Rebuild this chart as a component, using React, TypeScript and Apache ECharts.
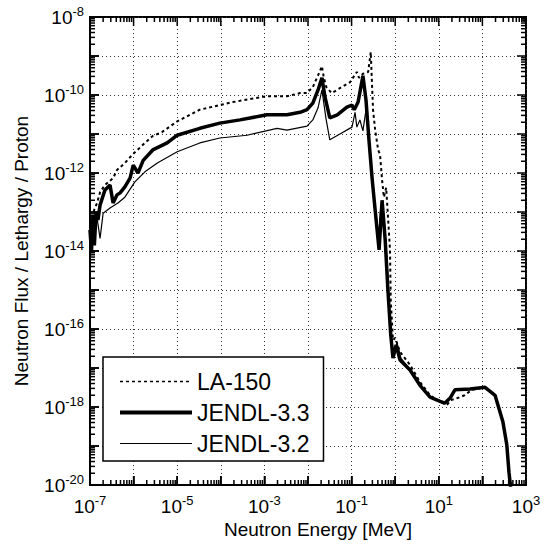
import React, { useEffect, useRef } from "react";
import * as echarts from "echarts";

// Neutron energy [MeV] / neutron flux per lethargy per proton
const la150: [number, number][] = [
  [1.0e-7, 5.5e-14], [1.11e-7, 2.6e-14], [1.24e-7, 1.12e-13], [1.45e-7, 1.7e-13],
  [1.7e-7, 3.2e-13], [2.19e-7, 4.9e-13], [3.39e-7, 7.4e-13], [4.17e-7, 1.2e-12],
  [6.3e-7, 1.8e-12], [9.8e-7, 3.1e-12], [1.82e-6, 5.9e-12], [2.75e-6, 8.9e-12],
  [4.47e-6, 1.12e-11], [1.0e-5, 2.1e-11], [3.3e-5, 4.2e-11], [1.91e-4, 6.6e-11],
  [1.15e-3, 9.3e-11], [3.3e-3, 9.3e-11], [6.6e-3, 1.12e-10], [9.5e-3, 1.12e-10],
  [1.29e-2, 1.6e-10], [1.7e-2, 3.2e-10], [2.09e-2, 5.5e-10], [2.29e-2, 2.9e-10],
  [2.63e-2, 1.6e-10], [3.5e-2, 1.12e-10], [5.4e-2, 1.5e-10], [9.1e-2, 2.1e-10],
  [1.32e-1, 3.9e-10], [1.48e-1, 2.75e-10], [1.82e-1, 3.5e-10], [2.4e-1, 3.9e-10],
  [2.75e-1, 1.26e-9], [3.1e-1, 4.2e-11], [3.47e-1, 1.26e-11], [4.07e-1, 3.9e-12],
  [4.5e-1, 2.9e-12], [5.0e-1, 6.6e-13], [5.5e-1, 2.4e-13], [6.2e-1, 4.2e-13],
  [6.8e-1, 8.3e-14], [7.6e-1, 1.07e-14], [7.9e-1, 5.5e-16], [8.9e-1, 5.2e-17],
  [1.0, 5.9e-17], [1.29, 2.6e-17], [2.19, 1.2e-17], [3.7, 4.4e-18],
  [6.3, 2.0e-18], [10.7, 1.35e-18], [15.2, 1.12e-18], [18.9, 1.5e-18],
  [27, 1.7e-18], [39, 2.0e-18], [57, 2.75e-18], [115, 3.2e-18],
  [195, 2.0e-18], [295, 4.2e-19], [363, 1.07e-19], [407, 2.1e-20], [457, 6.6e-21],
];

const jendl33: [number, number][] = [
  [1.0e-7, 3.5e-14], [1.08e-7, 9.3e-15], [1.17e-7, 8.3e-14], [1.26e-7, 1.4e-14],
  [1.38e-7, 1.0e-13], [1.52e-7, 6.2e-14], [1.7e-7, 1.5e-13], [2.19e-7, 3.6e-13],
  [2.88e-7, 4.9e-13], [3.39e-7, 1.7e-13], [4.17e-7, 2.75e-13], [4.9e-7, 3.1e-13],
  [6.3e-7, 4.4e-13], [8.3e-7, 7.4e-13], [9.8e-7, 1.6e-12], [1.26e-6, 1.0e-12],
  [1.66e-6, 2.1e-12], [2.75e-6, 3.9e-12], [5.9e-6, 5.9e-12], [1.0e-5, 9.3e-12],
  [3.3e-5, 1.4e-11], [9.5e-5, 1.9e-11], [2.75e-4, 2.3e-11], [1.15e-3, 3.1e-11],
  [3.3e-3, 3.1e-11], [6.6e-3, 3.6e-11], [9.5e-3, 4.2e-11], [1.29e-2, 6.2e-11],
  [1.7e-2, 1.35e-10], [2.09e-2, 2.75e-10], [2.45e-2, 8.9e-11], [3.16e-2, 2.6e-11],
  [4.7e-2, 3.1e-11], [7.8e-2, 4.9e-11], [1.02e-1, 5.5e-11], [1.15e-1, 4.2e-11],
  [1.41e-1, 6.6e-11], [1.82e-1, 3.1e-10], [2.14e-1, 7.4e-11], [2.5e-1, 7.1e-12],
  [2.95e-1, 7.4e-13], [3.47e-1, 1.12e-13], [4.27e-1, 1.07e-14], [5.0e-1, 2.0e-13],
  [5.9e-1, 1.9e-14], [6.8e-1, 1.0e-15], [7.9e-1, 7.1e-17], [8.9e-1, 1.8e-17],
  [1.05, 3.9e-17], [1.29, 1.6e-17], [2.19, 8.9e-18], [3.7, 3.6e-18],
  [6.3, 1.8e-18], [10.7, 1.4e-18], [13.8, 1.26e-18], [18.2, 1.7e-18],
  [23.4, 2.75e-18], [52, 2.9e-18], [115, 3.2e-18], [195, 2.0e-18],
  [295, 4.2e-19], [363, 1.07e-19], [407, 2.1e-20], [457, 6.6e-21],
];

const jendl32: [number, number][] = [
  [1.0e-7, 9.3e-15], [1.11e-7, 3.9e-14], [1.24e-7, 1.9e-14], [1.45e-7, 7.1e-14],
  [1.7e-7, 2.1e-14], [2.0e-7, 9.3e-14], [2.88e-7, 1.26e-13], [4.37e-7, 1.7e-13],
  [6.3e-7, 2.4e-13], [1.07e-6, 5.9e-13], [1.82e-6, 1.07e-12], [3.5e-6, 1.8e-12],
  [1.0e-5, 3.5e-12], [3.3e-5, 5.9e-12], [9.5e-5, 7.9e-12], [4.0e-4, 9.3e-12],
  [1.95e-3, 1.4e-11], [3.3e-3, 1.26e-11], [9.5e-3, 1.6e-11], [1.29e-2, 2.3e-11],
  [1.7e-2, 4.7e-11], [2.09e-2, 1.35e-10], [2.57e-2, 2.6e-11], [3.16e-2, 7.1e-12],
  [5.4e-2, 1.0e-11], [1.02e-1, 1.5e-11], [1.2e-1, 3.6e-11], [1.32e-1, 1.5e-11],
  [1.55e-1, 2.3e-11], [1.82e-1, 1.2e-11], [2.14e-1, 4.2e-11], [2.4e-1, 1.7e-11],
  [2.8e-1, 1.6e-12], [3.47e-1, 8.3e-14], [4.07e-1, 1.4e-14], [4.7e-1, 1.5e-13],
  [5.5e-1, 8.3e-14], [6.5e-1, 5.9e-15], [7.6e-1, 1.7e-16], [8.9e-1, 2.0e-17],
  [1.1, 4.4e-17], [1.35, 1.8e-17], [2.19, 8.9e-18], [3.7, 3.6e-18],
  [6.3, 1.8e-18], [10.7, 1.4e-18], [13.8, 1.26e-18], [18.2, 1.7e-18],
  [23.4, 2.75e-18], [52, 2.9e-18], [115, 3.2e-18], [195, 2.0e-18],
  [295, 4.2e-19], [363, 1.07e-19], [407, 2.1e-20], [457, 6.6e-21],
];

const seriesNames = ["LA-150", "JENDL-3.3", "JENDL-3.2"];
const xTitle = "Neutron Energy [MeV]";
const yTitle = "Neutron Flux / Lethargy / Proton";

const X_MIN = 1e-7;
const X_MAX = 1e3;
const Y_MIN = 1e-20;
const Y_MAX = 1e-8;
const xDecades = [-7, -6, -5, -4, -3, -2, -1, 0, 1, 2];
const yDecades = [-20, -19, -18, -17, -16, -15, -14, -13, -12, -11, -10, -9];
const minorMultipliers = [1, 2, 3, 4, 5, 6, 7, 8, 9];

const FONT = "'Liberation Sans', Arial, Helvetica, sans-serif";

export default function App() {
  const ref = useRef<HTMLDivElement>(null);

  useEffect(() => {
    if (!ref.current) return;
    const chart = echarts.init(ref.current, undefined, { renderer: "svg" });

    const supLabel = (value: number, keepOdd: boolean) => {
      const e = Math.round(Math.log10(value));
      const odd = Math.abs(e) % 2 === 1;
      if (odd !== keepOdd) return " ";
      return `{b|10}{s|${e}}`;
    };

    const rich = {
      b: { fontSize: 19, fontFamily: FONT, color: "#000", lineHeight: 24 },
      s: { fontSize: 13, fontFamily: FONT, color: "#000", verticalAlign: "top", lineHeight: 13 },
    };

    const hiddenSymbol = { color: "rgba(0,0,0,0)", borderColor: "rgba(0,0,0,0)", borderWidth: 0, opacity: 0 };

    try {
      chart.setOption({
        animation: false,
        backgroundColor: "#fff",
        grid: {
          left: 90, right: 28, top: 17, bottom: 60,
          show: true, borderColor: "#000", borderWidth: 2,
          outerBoundsMode: "none",
        },
        legend: {
          orient: "vertical",
          left: 103,
          top: 357,
          padding: [13, 14, 6, 15],
          itemWidth: 72,
          itemHeight: 14,
          itemGap: 8,
          borderColor: "#000",
          borderWidth: 1.5,
          backgroundColor: "#fff",
          textStyle: { fontSize: 23, fontFamily: FONT, color: "#000", lineHeight: 23 },
          data: [
            { name: seriesNames[0], itemStyle: hiddenSymbol, lineStyle: { width: 1.5, type: [3, 3] } },
            { name: seriesNames[1], itemStyle: hiddenSymbol, lineStyle: { width: 4 } },
            { name: seriesNames[2], itemStyle: hiddenSymbol, lineStyle: { width: 1.2 } },
          ],
        },
        xAxis: {
          type: "log",
          min: X_MIN,
          max: X_MAX,
          interval: 1,
          name: xTitle,
          nameLocation: "middle",
          nameGap: 27,
          nameTextStyle: { fontSize: 19, fontFamily: FONT, color: "#000", padding: [0, 0, 0, 20] },
          axisLine: { show: true, lineStyle: { color: "#000", width: 2 } },
          axisTick: { show: true, inside: true, length: 9, lineStyle: { color: "#000", width: 1.5 } },
          axisLabel: {
            margin: 9,
            formatter: (v: number) => supLabel(v, true),
            rich,
            showMinLabel: true,
            showMaxLabel: true,
          },
          splitLine: { show: true, lineStyle: { color: "#333", width: 1, type: [1, 3] } },
        },
        yAxis: {
          type: "log",
          min: Y_MIN,
          max: Y_MAX,
          interval: 1,
          name: yTitle,
          nameLocation: "middle",
          nameGap: 59,
          nameTextStyle: { fontSize: 19, fontFamily: FONT, color: "#000" },
          axisLine: { show: true, lineStyle: { color: "#000", width: 2 } },
          axisTick: { show: true, inside: true, length: 9, lineStyle: { color: "#000", width: 1.5 } },
          axisLabel: {
            margin: 6,
            formatter: (v: number) => supLabel(v, false),
            rich,
            showMinLabel: true,
            showMaxLabel: true,
          },
          splitLine: { show: true, lineStyle: { color: "#333", width: 1, type: [1, 3] } },
        },
        series: [
          {
            name: seriesNames[0],
            type: "line",
            data: la150,
            symbol: "none",
            lineStyle: { color: "#000", width: 2, type: [3, 3] },
            itemStyle: { color: "#000" },
            z: 3,
          },
          {
            name: seriesNames[1],
            type: "line",
            data: jendl33,
            symbol: "none",
            lineStyle: { color: "#000", width: 3.5 },
            itemStyle: { color: "#000" },
            z: 4,
          },
          {
            name: seriesNames[2],
            type: "line",
            data: jendl32,
            symbol: "none",
            lineStyle: { color: "#000", width: 1.2 },
            itemStyle: { color: "#000" },
            z: 3,
          },
        ],
      });
    } catch (e) {
      // keep going so the ticks below are still drawn
    }

    // Inward ticks on all four sides (major at decades, minor at 2..9), positioned through the axes' scales
    const elements: any[] = [];
    const addLine = (x1: number, y1: number, x2: number, y2: number) => {
      if (![x1, y1, x2, y2].every((n) => typeof n === "number" && isFinite(n))) return;
      elements.push({
        type: "line",
        silent: true,
        z: 50,
        shape: { x1, y1, x2, y2 },
        style: { stroke: "#000", lineWidth: 1.5 },
      });
    };
    try {
      xDecades.forEach((d) => {
        minorMultipliers.forEach((m) => {
          const v = m * Math.pow(10, d);
          const len = m === 1 ? 9 : 5;
          const b = chart.convertToPixel({ gridIndex: 0 }, [v, Y_MIN]) as number[];
          const t = chart.convertToPixel({ gridIndex: 0 }, [v, Y_MAX]) as number[];
          if (b && t) {
            addLine(b[0], b[1], b[0], b[1] - len);
            addLine(t[0], t[1], t[0], t[1] + len);
          }
        });
      });
      yDecades.forEach((d) => {
        minorMultipliers.forEach((m) => {
          const v = m * Math.pow(10, d);
          const len = m === 1 ? 9 : 5;
          const l = chart.convertToPixel({ gridIndex: 0 }, [X_MIN, v]) as number[];
          const r = chart.convertToPixel({ gridIndex: 0 }, [X_MAX, v]) as number[];
          if (l && r) {
            addLine(l[0], l[1], l[0] + len, l[1]);
            addLine(r[0], r[1], r[0] - len, r[1]);
          }
        });
      });
      const tr = chart.convertToPixel({ gridIndex: 0 }, [X_MAX, Y_MAX]) as number[];
      if (tr) {
        addLine(tr[0], tr[1], tr[0] - 9, tr[1]);
        addLine(tr[0], tr[1], tr[0], tr[1] + 9);
      }
    } catch (e) {
      // leave ticks out if conversion fails
    }
    try {
      chart.setOption({ graphic: elements });
    } catch (e) {
      // ignore
    }

    return () => chart.dispose();
  }, []);

  return (
    <div
      ref={ref}
      style={{ position: "fixed", left: 0, top: 0, width: 554, height: 545, background: "#fff" }}
    />
  );
}
